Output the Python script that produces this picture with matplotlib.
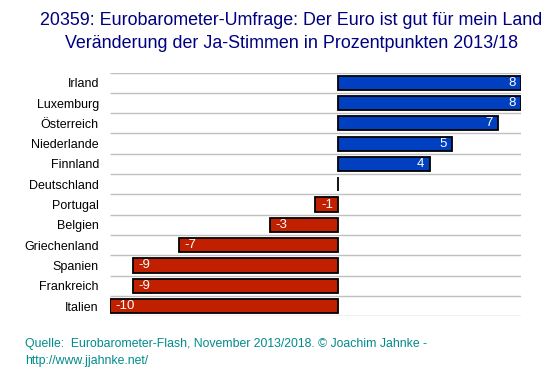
import numpy as np
import matplotlib.pyplot as plt

plt.rcParams['font.family'] = ['Liberation Sans', 'DejaVu Sans']

countries = ['Irland', 'Luxemburg', 'Österreich', 'Niederlande', 'Finnland',
             'Deutschland', 'Portugal', 'Belgien', 'Griechenland', 'Spanien',
             'Frankreich', 'Italien']
values = [8, 8, 7, 5, 4, 0, -1, -3, -7, -9, -9, -10]

title = ('20359: Eurobarometer-Umfrage: Der Euro ist gut für mein Land\n'
         'Veränderung der Ja-Stimmen in Prozentpunkten 2013/18')
source = ('Quelle:  Eurobarometer-Flash, November 2013/2018. © Joachim Jahnke -\n'
          'http://www.jjahnke.net/')

blue = '#0040C0'
red = '#C02000'

fig = plt.figure(figsize=(5.53, 3.76), dpi=100)
ax = fig.add_axes([0.199, 0.159, 0.743, 0.648])

y = np.arange(len(countries))
colors = [blue if v >= 0 else red for v in values]
ax.barh(y, values, height=0.7, color=colors, edgecolor='black', linewidth=1.3, zorder=3)

# row separators
ax.hlines(np.arange(len(countries) + 1) - 0.5, -10, 8, color='#c0c0c0', linewidth=1, zorder=1)

for yi, v in zip(y, values):
    if v == 0:
        continue
    if v > 0:
        ax.annotate(str(v), (v, yi), xytext=(-4, 0), textcoords='offset points',
                    ha='right', va='center', color='white', fontsize=9.5, zorder=4)
    else:
        ax.annotate(str(v), (v, yi), xytext=(4, 0), textcoords='offset points',
                    ha='left', va='center', color='white', fontsize=9.5, zorder=4)

ax.set_xlim(-10, 8)
ax.set_ylim(len(countries) - 0.5, -0.5)
ax.set_yticks(y)
ax.set_yticklabels(countries, fontsize=9)
ax.tick_params(axis='y', length=0, pad=8)
ax.set_xticks([])
for s in ax.spines.values():
    s.set_visible(False)

fig.text(0.527, 0.968, title, ha='center', va='top', fontsize=12.9,
         color='#000080', linespacing=1.45)
fig.text(0.045, 0.1, source, ha='left', va='top', fontsize=8.8,
         color='#008B8B', linespacing=1.5)

fig.savefig('out.png', dpi=100)
